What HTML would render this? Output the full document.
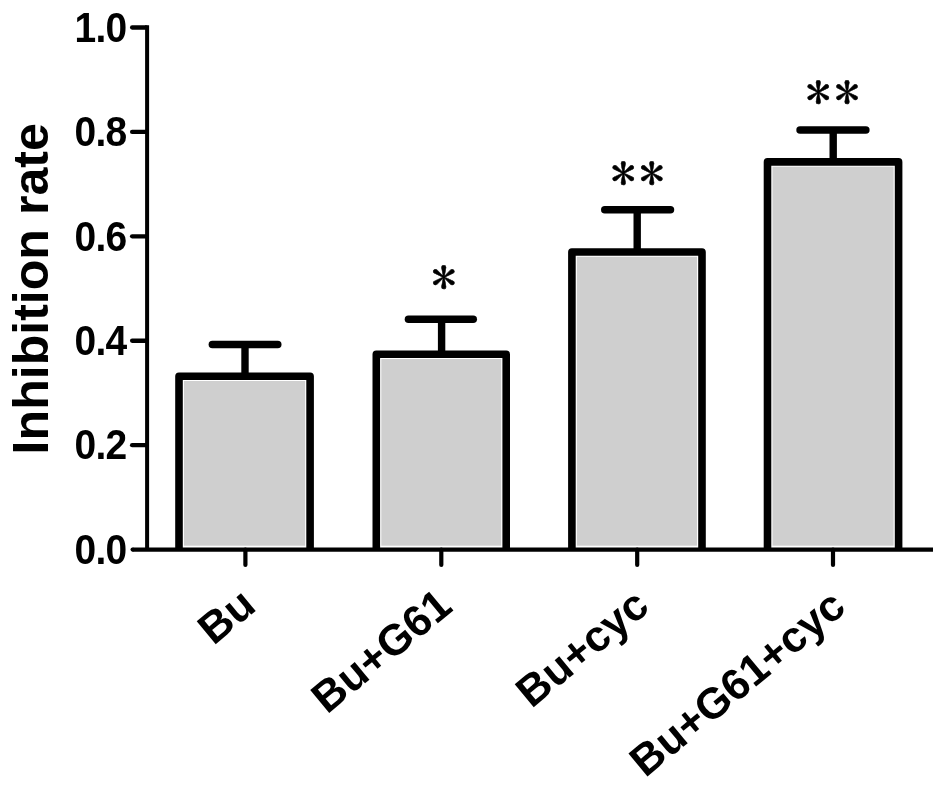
<!DOCTYPE html>
<html lang="en"><head><meta charset="utf-8"><title>Inhibition rate</title>
<style>
html,body{margin:0;padding:0;background:#fff;}
body{width:945px;height:788px;overflow:hidden;}
svg{display:block;}
text{font-family:"Liberation Sans",Arial,Helvetica,sans-serif;font-weight:bold;fill:#000;}
.t{font-size:40.8px;letter-spacing:-0.8px;}
.yl{font-size:50.1px;}
.xl{font-size:43.4px;}
.st{font-family:"IPAGothic","Liberation Serif",serif;font-weight:normal;font-size:47.8px;stroke:#000;stroke-width:0.5px;stroke-linejoin:round;letter-spacing:3.4px;}
</style></head><body>
<svg width="945" height="788" viewBox="0 0 945 788">
<rect width="945" height="788" fill="#fff"/>
<rect x="184.00" y="381.00" width="121.10" height="164.70" fill="#cfcfcf"/>
<path d="M179.00 549.6 V376.20 H310.10 V549.6" fill="none" stroke="#000" stroke-width="7.6" stroke-linejoin="round"/>
<line x1="245.0" y1="344.6" x2="245.0" y2="376.2" stroke="#000" stroke-width="7.4"/>
<line x1="212.35" y1="344.6" x2="277.75" y2="344.6" stroke="#000" stroke-width="7.5" stroke-linecap="round"/>
<rect x="381.30" y="359.00" width="119.90" height="186.70" fill="#cfcfcf"/>
<path d="M376.30 549.6 V354.20 H506.20 V549.6" fill="none" stroke="#000" stroke-width="7.6" stroke-linejoin="round"/>
<line x1="441.6" y1="319.2" x2="441.6" y2="354.2" stroke="#000" stroke-width="7.4"/>
<line x1="408.45" y1="319.2" x2="473.25" y2="319.2" stroke="#000" stroke-width="7.5" stroke-linecap="round"/>
<rect x="576.90" y="256.80" width="120.10" height="288.90" fill="#cfcfcf"/>
<path d="M571.90 549.6 V252.00 H702.00 V549.6" fill="none" stroke="#000" stroke-width="7.6" stroke-linejoin="round"/>
<line x1="637.2" y1="209.8" x2="637.2" y2="252.0" stroke="#000" stroke-width="7.4"/>
<line x1="604.75" y1="209.8" x2="670.45" y2="209.8" stroke="#000" stroke-width="7.5" stroke-linecap="round"/>
<rect x="772.50" y="166.70" width="121.10" height="379.00" fill="#cfcfcf"/>
<path d="M767.50 549.6 V161.90 H898.60 V549.6" fill="none" stroke="#000" stroke-width="7.6" stroke-linejoin="round"/>
<line x1="833.2" y1="130.0" x2="833.2" y2="161.9" stroke="#000" stroke-width="7.4"/>
<line x1="800.05" y1="130.0" x2="865.85" y2="130.0" stroke="#000" stroke-width="7.5" stroke-linecap="round"/>
<path d="M147.1 25.35 V549.6" stroke="#000" stroke-width="4" fill="none"/>
<path d="M132.6 549.6 H933" stroke="#000" stroke-width="4.2" fill="none"/>
<circle cx="132.6" cy="549.6" r="2.1" fill="#000"/>
<path d="M132.1 445.18 H146" stroke="#000" stroke-width="4.3" stroke-linecap="round" fill="none"/>
<path d="M132.1 340.76 H146" stroke="#000" stroke-width="4.3" stroke-linecap="round" fill="none"/>
<path d="M132.1 236.34 H146" stroke="#000" stroke-width="4.3" stroke-linecap="round" fill="none"/>
<path d="M132.1 131.92 H146" stroke="#000" stroke-width="4.3" stroke-linecap="round" fill="none"/>
<path d="M132.1 27.50 H146" stroke="#000" stroke-width="4.3" stroke-linecap="round" fill="none"/>
<path d="M245.4 549.6 V564.9" stroke="#000" stroke-width="4.2" stroke-linecap="round" fill="none"/>
<path d="M441.3 549.6 V564.9" stroke="#000" stroke-width="4.2" stroke-linecap="round" fill="none"/>
<path d="M637.2 549.6 V564.9" stroke="#000" stroke-width="4.2" stroke-linecap="round" fill="none"/>
<path d="M833.0 549.6 V564.9" stroke="#000" stroke-width="4.2" stroke-linecap="round" fill="none"/>
<text transform="translate(126.4 563.80) scale(0.955 1.036)" text-anchor="end" class="t">0.0</text>
<text transform="translate(126.4 459.38) scale(0.955 1.036)" text-anchor="end" class="t">0.2</text>
<text transform="translate(126.4 354.96) scale(0.955 1.036)" text-anchor="end" class="t">0.4</text>
<text transform="translate(126.4 250.54) scale(0.955 1.036)" text-anchor="end" class="t">0.6</text>
<text transform="translate(126.4 146.12) scale(0.955 1.036)" text-anchor="end" class="t">0.8</text>
<text transform="translate(126.4 41.70) scale(0.955 1.036)" text-anchor="end" class="t">1.0</text>
<text transform="translate(48 288.8) rotate(-90)" text-anchor="middle" class="yl">Inhibition rate</text>
<text transform="translate(258.0 609.1) rotate(-39.6)" text-anchor="end" class="xl">Bu</text>
<text transform="translate(454.4 609.5) rotate(-39.6)" text-anchor="end" class="xl">Bu+G61</text>
<text transform="translate(651.4 609.9) rotate(-39.6)" text-anchor="end" class="xl">Bu+cyc</text>
<text transform="translate(847.9 610.6) rotate(-39.6)" text-anchor="end" class="xl">Bu+G61+cyc</text>
<text transform="translate(445.5 295.0) scale(1.05 1)" text-anchor="middle" class="st">*</text>
<text transform="translate(639.3 191.1) scale(1.05 1)" text-anchor="middle" class="st">**</text>
<text transform="translate(834.4 110.4) scale(1.05 1)" text-anchor="middle" class="st">**</text>
</svg>
</body></html>
